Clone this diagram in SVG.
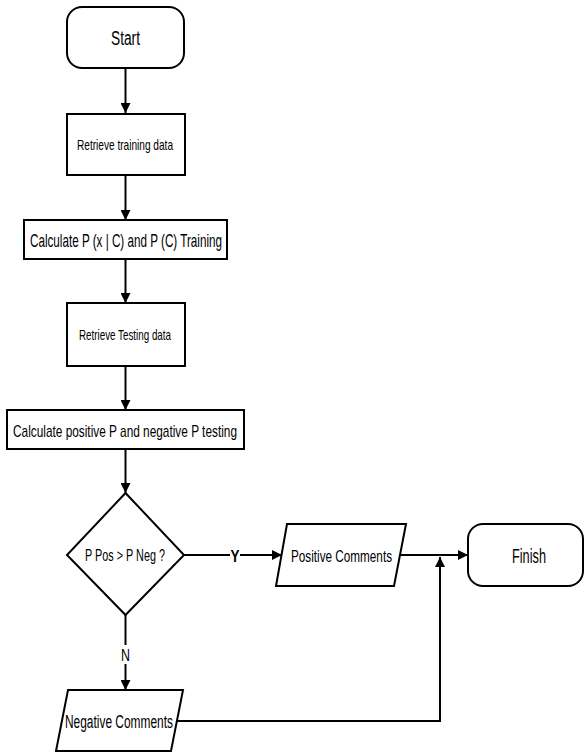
<svg xmlns="http://www.w3.org/2000/svg" width="585" height="752" viewBox="0 0 585 752">
<defs>
<style>
.s{fill:#fff;stroke:#000;stroke-width:2}
.c{fill:none;stroke:#000;stroke-width:2}
text{font-family:"Liberation Sans",Arial,sans-serif;fill:#000;text-anchor:middle}
</style>
<marker id="ah" viewBox="0 0 10 10" refX="10" refY="5" markerWidth="5" markerHeight="5" markerUnits="strokeWidth" orient="auto">
<path d="M0,0 L10,5 L0,10 z" fill="#000"/>
</marker>
</defs>
<rect width="585" height="752" fill="#fff"/>
<g id="connectors">
<path class="c" d="M125.5,68 V113" marker-end="url(#ah)"/>
<path class="c" d="M125.5,175 V220" marker-end="url(#ah)"/>
<path class="c" d="M125.5,259 V303" marker-end="url(#ah)"/>
<path class="c" d="M125.5,366 V410" marker-end="url(#ah)"/>
<path class="c" d="M125.5,449 V493" marker-end="url(#ah)"/>
<path class="c" d="M184,555 H282" marker-end="url(#ah)"/>
<path class="c" d="M125.5,615 V690" marker-end="url(#ah)"/>
<path class="c" d="M400,555 H468" marker-end="url(#ah)"/>
<path class="c" d="M177,721 H440 V557" marker-end="url(#ah)"/>
<rect x="230" y="547" width="10" height="16" fill="#fff"/>
<text x="235" y="562" font-size="17" font-weight="bold" textLength="9" lengthAdjust="spacingAndGlyphs">Y</text>
<rect x="119" y="645" width="13" height="19" fill="#fff"/>
<text x="125.5" y="661" font-size="17" textLength="9" lengthAdjust="spacingAndGlyphs">N</text>
</g>
<g id="start">
<rect class="s" x="67" y="7" width="117" height="61" rx="15"/>
<text x="125.5" y="45" font-size="20" textLength="29" lengthAdjust="spacingAndGlyphs">Start</text>
</g>
<g id="retrieve-training">
<rect class="s" x="67" y="114" width="118" height="61"/>
<text x="125" y="150" font-size="14.5" textLength="96" lengthAdjust="spacingAndGlyphs">Retrieve training data</text>
</g>
<g id="calc-training">
<rect class="s" x="24" y="220" width="203" height="39"/>
<text x="126" y="247" font-size="19" textLength="192" lengthAdjust="spacingAndGlyphs">Calculate P (x | C) and P (C) Training</text>
</g>
<g id="retrieve-testing">
<rect class="s" x="67" y="303" width="118" height="63"/>
<text x="125" y="340" font-size="14.5" textLength="92" lengthAdjust="spacingAndGlyphs">Retrieve Testing data</text>
</g>
<g id="calc-testing">
<rect class="s" x="7" y="410" width="237" height="39"/>
<text x="125" y="437" font-size="17" textLength="224" lengthAdjust="spacingAndGlyphs">Calculate positive P and negative P testing</text>
</g>
<g id="decision">
<path class="s" d="M125.5,493 L184,555 L125.5,615 L67,555 Z"/>
<text x="125" y="561" font-size="16.5" textLength="80" lengthAdjust="spacingAndGlyphs">P Pos &gt; P Neg ?</text>
</g>
<g id="positive">
<path class="s" d="M287,524 H406 L394,586 H276 Z"/>
<text x="341.5" y="562" font-size="17" textLength="101" lengthAdjust="spacingAndGlyphs">Positive Comments</text>
</g>
<g id="negative">
<path class="s" d="M68,690 H183 L171,751 H56 Z"/>
<text x="119" y="728" font-size="18" textLength="108" lengthAdjust="spacingAndGlyphs">Negative Comments</text>
</g>
<g id="finish">
<rect class="s" x="468" y="524" width="115" height="62" rx="15"/>
<text x="529" y="563" font-size="20" textLength="34" lengthAdjust="spacingAndGlyphs">Finish</text>
</g>
</svg>
